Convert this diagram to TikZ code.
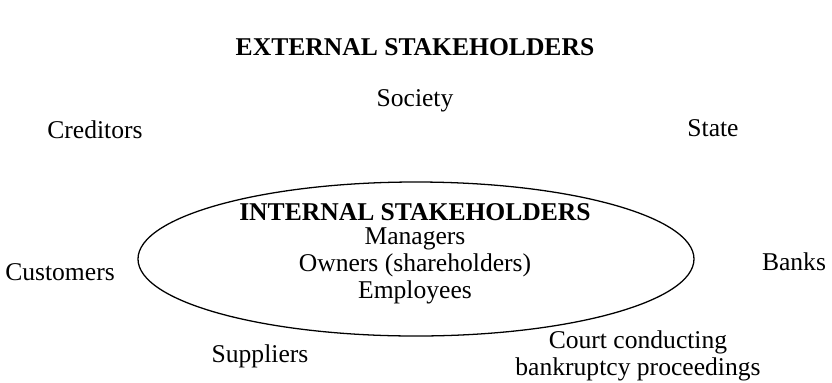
\documentclass[tikz,border=0pt]{standalone}
\usepackage{fontspec}
\setmainfont{Liberation Serif}
\usepackage{tikz}
\usetikzlibrary{positioning,shapes}

\begin{document}
\begin{tikzpicture}[x=0.469pt, y=-0.469pt,
    every node/.style={font=\fontsize{12}{12.6}\selectfont, inner sep=0pt, align=center},
    head/.style={font=\fontsize{12}{12.6}\selectfont\bfseries}]
        \useasboundingbox (0,0) rectangle (832,382);

        % Heading
        \node[head] (ext) at (415,47) {EXTERNAL STAKEHOLDERS};

        % Internal stakeholders inside the ellipse
        \draw[semithick] (416,259) ellipse [x radius=278, y radius=77];
        \node[head] (int) at (415,212) {INTERNAL STAKEHOLDERS};
        \node (mgr) at (415,239) {Managers};
        \node (own) at (415,265) {Owners (shareholders)};
        \node (emp) at (415,292) {Employees};

        % External stakeholders around it
        \node (soc) at (415,101) {Society};
        \node (state) at (713,128) {State};
        \node (cred) at (95,130) {Creditors};
        \node (banks) at (794,262) {Banks};
        \node (cust) at (60,272) {Customers};
        \node (supp) at (260,356) {Suppliers};
        \node (court) at (638,356) {Court conducting\\bankruptcy proceedings};
      \end{tikzpicture}
\end{document}
